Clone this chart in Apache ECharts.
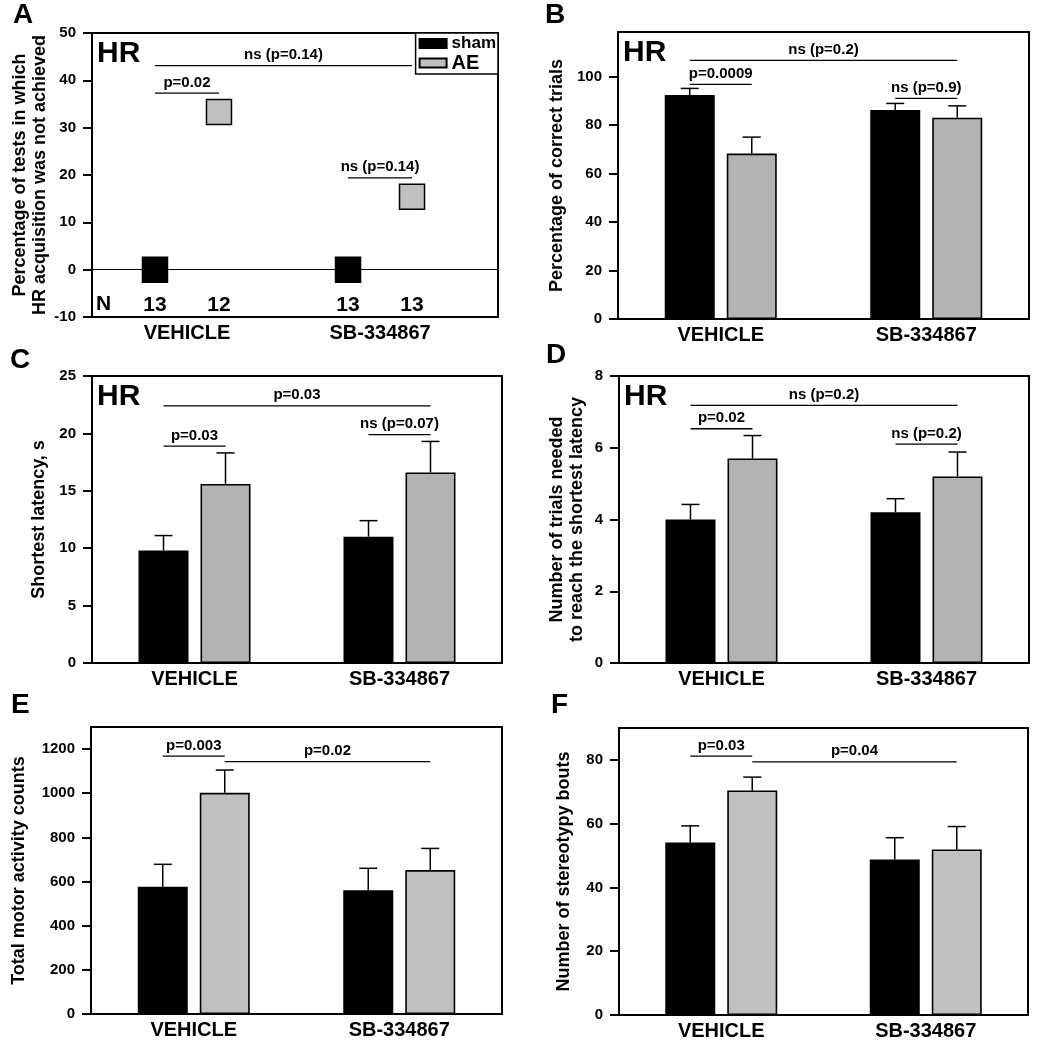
<!DOCTYPE html>
<html><head><meta charset="utf-8">
<script src="https://cdn.jsdelivr.net/npm/echarts@6/dist/echarts.min.js"></script>
<style>html,body{margin:0;padding:0;background:#fff}#c{width:1045px;height:1050px}</style>
</head><body><div id="c"></div>
<script>
// ---------------- data ----------------
const groups = ['VEHICLE', 'SB-334867'];
const seriesNames = ['sham', 'AE'];

// A: percentage of tests in which HR acquisition was not achieved
const aSham = [0, 0];
const aAE = [33.3, 15.4];
const aNSham = [13, 13];
const aNAE = [12, 13];
const aTicks = [-10, 0, 10, 20, 30, 40, 50];
const aBrackets = [[0, 0, 0, 1, 37.3, 'p=0.02'], [0, 0, 1, 1, 43.1, 'ns (p=0.14)'], [1, 0, 1, 1, 19.4, 'ns (p=0.14)']];

// B: percentage of correct trials
const bSham = [92.5, 86.3];
const bShamSem = [2.7, 2.7];
const bAE = [68.3, 83.1];
const bAESem = [6.8, 4.9];
const bTicks = [0, 20, 40, 60, 80, 100];
const bBrackets = [[0, 0, 0, 1, 96.9, 'p=0.0009'], [0, 0, 1, 1, 106.8, 'ns (p=0.2)'], [1, 0, 1, 1, 91.1, 'ns (p=0.9)']];

// C: shortest latency, s
const cSham = [9.8, 11.0];
const cShamSem = [1.3, 1.4];
const cAE = [15.6, 16.6];
const cAESem = [2.7, 2.7];
const cTicks = [0, 5, 10, 15, 20, 25];
const cBrackets = [[0, 0, 0, 1, 18.9, 'p=0.03'], [0, 0, 1, 1, 22.4, 'p=0.03'], [1, 0, 1, 1, 19.9, 'ns (p=0.07)']];

// D: number of trials needed to reach the shortest latency
const dSham = [4.0, 4.2];
const dShamSem = [0.42, 0.38];
const dAE = [5.7, 5.2];
const dAESem = [0.64, 0.68];
const dTicks = [0, 2, 4, 6, 8];
const dBrackets = [[0, 0, 0, 1, 6.53, 'p=0.02'], [0, 0, 1, 1, 7.18, 'ns (p=0.2)'], [1, 0, 1, 1, 6.10, 'ns (p=0.2)']];

// E: total motor activity counts
const eSham = [576, 561];
const eShamSem = [102, 99];
const eAE = [1002, 652];
const eAESem = [103, 98];
const eTicks = [0, 200, 400, 600, 800, 1000, 1200];
const eBrackets = [[0, 0, 0, 1, 1168, 'p=0.003'], [0, 1, 1, 1, 1143, 'p=0.02']];

// F: number of stereotypy bouts
const fSham = [54.1, 48.8];
const fShamSem = [5.2, 6.8];
const fAE = [70.4, 51.9];
const fAESem = [4.2, 7.2];
const fTicks = [0, 20, 40, 60, 80];
const fBrackets = [[0, 0, 0, 1, 81.2, 'p=0.03'], [0, 1, 1, 1, 79.4, 'p=0.04']];

// ---------------- styles / layout ----------------
const FONT = '"Liberation Sans", Arial, Helvetica, sans-serif';
const BAR_W = 50, BAR_GAP = 12;
const BAR_OFF = [-(BAR_W + BAR_GAP) / 2, (BAR_W + BAR_GAP) / 2];
const A_OFF = [-32, 32];
const GRAY1 = '#b3b3b3';
const GRAY2 = '#c0c0c0';

const layout = [
  { grid: { left: 92, top: 33, width: 406, height: 284 }, min: -10, max: 50, ticks: aTicks, name: 'Percentage of tests in which\nHR acquisition was not achieved', gap: 42, letter: 'A', lx: 13, ly: 16, hr: true },
  { grid: { left: 618, top: 32, width: 411, height: 287 }, min: 0, max: 118.5, ticks: bTicks, name: 'Percentage of correct trials', gap: 51, letter: 'B', lx: 545, ly: 16, hr: true, sham: bSham, shamSem: bShamSem, ae: bAE, aeSem: bAESem, br: bBrackets, gray: GRAY1 },
  { grid: { left: 92, top: 376, width: 410, height: 287 }, min: 0, max: 25, ticks: cTicks, name: 'Shortest latency, s', gap: 43, letter: 'C', lx: 10, ly: 361, hr: true, sham: cSham, shamSem: cShamSem, ae: cAE, aeSem: cAESem, br: cBrackets, gray: GRAY1 },
  { grid: { left: 619, top: 376, width: 410, height: 287 }, min: 0, max: 8, ticks: dTicks, name: 'Number of trials needed\nto reach the shortest latency', gap: 32, letter: 'D', lx: 546, ly: 356, hr: true, sham: dSham, shamSem: dShamSem, ae: dAE, aeSem: dAESem, br: dBrackets, gray: GRAY1 },
  { grid: { left: 91, top: 727, width: 411, height: 287 }, min: 0, max: 1300, ticks: eTicks, name: 'Total motor activity counts', gap: 62, letter: 'E', lx: 11, ly: 706, hr: false, sham: eSham, shamSem: eShamSem, ae: eAE, aeSem: eAESem, br: eBrackets, gray: GRAY2 },
  { grid: { left: 619, top: 728, width: 409, height: 287 }, min: 0, max: 90, ticks: fTicks, name: 'Number of stereotypy bouts', gap: 45, letter: 'F', lx: 551, ly: 706, hr: false, sham: fSham, shamSem: fShamSem, ae: fAE, aeSem: fAESem, br: fBrackets, gray: GRAY2 }
];

const txt = (size) => ({ color: '#000', fontSize: size, fontWeight: 'bold', fontFamily: FONT });

function makeYAxis(L, i) {
  return {
    type: 'value', gridIndex: i, min: L.min, max: L.max,
    axisLine: { show: true, onZero: false, lineStyle: { color: '#000', width: 2 } },
    axisTick: { show: true, length: 9, lineStyle: { color: '#000', width: 2 }, customValues: L.ticks },
    axisLabel: Object.assign({ customValues: L.ticks, margin: 16, formatter: (v) => String(v) }, txt(15)),
    splitLine: { show: false },
    name: L.name, nameLocation: 'middle', nameGap: L.gap,
    nameTextStyle: Object.assign({ lineHeight: 20 }, txt(18))
  };
}

function makeXAxis(i) {
  if (i === 0) {
    return {
      type: 'value', gridIndex: 0, min: -0.492, max: 1.611,
      axisLine: { show: true, onZero: false, lineStyle: { color: '#000', width: 2 } },
      axisTick: { show: false },
      splitLine: { show: false },
      axisLabel: Object.assign({ customValues: [0, 1], margin: 6, formatter: (v) => groups[Math.round(v)] || '' }, txt(20))
    };
  }
  return {
    type: 'category', gridIndex: i, data: groups,
    axisLine: { show: true, onZero: false, lineStyle: { color: '#000', width: 2 } },
    axisTick: { show: false },
    axisLabel: Object.assign({ margin: 6 }, txt(20))
  };
}

function bracketSeries(i, brackets, offsets) {
  return {
    type: 'custom', xAxisIndex: i, yAxisIndex: i, silent: true, clip: false, z: 5,
    data: brackets.map(b => [b[0], b[4]]),
    renderItem: (params, api) => {
      const b = brackets[params.dataIndex];
      const p1 = api.coord([b[0], b[4]]);
      const p2 = api.coord([b[2], b[4]]);
      const x1 = p1[0] + offsets[b[1]], x2 = p2[0] + offsets[b[3]];
      const y = p1[1];
      return {
        type: 'group', children: [
          { type: 'line', shape: { x1: x1, y1: y, x2: x2, y2: y }, style: { stroke: '#000', lineWidth: 1.3 } },
          { type: 'text', x: (x1 + x2) / 2, y: y - 3, style: { text: b[5], fill: '#000', fontSize: 15, fontWeight: 'bold', fontFamily: FONT, align: 'center', verticalAlign: 'bottom' } }
        ]
      };
    }
  };
}

function errSeries(i, means, sems, offset) {
  return {
    type: 'custom', xAxisIndex: i, yAxisIndex: i, silent: true, z: 4,
    data: means.map((m, k) => [k, m, m + sems[k]]),
    renderItem: (params, api) => {
      const base = api.coord([api.value(0), api.value(1)]);
      const top = api.coord([api.value(0), api.value(2)]);
      const x = base[0] + offset;
      return {
        type: 'group', children: [
          { type: 'line', shape: { x1: x, y1: base[1], x2: x, y2: top[1] }, style: { stroke: '#000', lineWidth: 1.5 } },
          { type: 'line', shape: { x1: x - 9, y1: top[1], x2: x + 9, y2: top[1] }, style: { stroke: '#000', lineWidth: 1.5 } }
        ]
      };
    }
  };
}

const series = [];
// Panel A
series.push({
  type: 'scatter', name: seriesNames[0], xAxisIndex: 0, yAxisIndex: 0, z: 3,
  data: aSham.map((v, k) => [k, v]), symbol: 'rect', symbolSize: 25, symbolOffset: [A_OFF[0], 0],
  itemStyle: { color: '#000', borderColor: '#000', borderWidth: 1.5, opacity: 1 },
  markLine: { silent: true, symbol: ['none', 'none'], label: { show: false }, lineStyle: { color: '#000', width: 1, type: 'solid' }, data: [{ yAxis: 0 }] }
});
series.push({
  type: 'scatter', name: seriesNames[1], xAxisIndex: 0, yAxisIndex: 0, z: 3,
  data: aAE.map((v, k) => [k, v]), symbol: 'rect', symbolSize: 25, symbolOffset: [A_OFF[1], 0],
  itemStyle: { color: GRAY2, borderColor: '#000', borderWidth: 1.5, opacity: 1 }
});
series.push(bracketSeries(0, aBrackets, A_OFF));
series.push({
  type: 'custom', xAxisIndex: 0, yAxisIndex: 0, silent: true, z: 5,
  data: groups.map((g, k) => [k, -7.5]),
  renderItem: (params, api) => {
    const k = params.dataIndex;
    const p = api.coord([k, -7.5]);
    const ns = [aNSham[k], aNAE[k]];
    return {
      type: 'group', children: ns.map((n, j) => ({
        type: 'text', x: p[0] + A_OFF[j], y: p[1],
        style: { text: String(n), fill: '#000', fontSize: 21, fontWeight: 'bold', fontFamily: FONT, align: 'center', verticalAlign: 'middle' }
      }))
    };
  }
});

// Bar panels B-F
for (let i = 1; i < layout.length; i++) {
  const L = layout[i];
  series.push({
    type: 'bar', name: seriesNames[0], xAxisIndex: i, yAxisIndex: i, data: L.sham,
    barWidth: BAR_W, barGap: (BAR_GAP / BAR_W * 100) + '%',
    itemStyle: { color: '#000', borderColor: '#000', borderWidth: 1.6 }
  });
  series.push({
    type: 'bar', name: seriesNames[1], xAxisIndex: i, yAxisIndex: i, data: L.ae,
    barWidth: BAR_W, barGap: (BAR_GAP / BAR_W * 100) + '%',
    itemStyle: { color: L.gray, borderColor: '#000', borderWidth: 1.6 }
  });
  series.push(errSeries(i, L.sham, L.shamSem, BAR_OFF[0]));
  series.push(errSeries(i, L.ae, L.aeSem, BAR_OFF[1]));
  series.push(bracketSeries(i, L.br, BAR_OFF));
}

const graphic = [];
layout.forEach((L) => {
  graphic.push({ type: 'text', left: L.lx, top: L.ly - 15, style: { text: L.letter, fill: '#000', fontSize: 28, fontWeight: 'bold', fontFamily: FONT } });
  if (L.hr) {
    graphic.push({ type: 'text', left: L.grid.left + 5, top: L.grid.top + 6, style: { text: 'HR', fill: '#000', fontSize: 30, fontWeight: 'bold', fontFamily: FONT } });
  }
});
graphic.push({ type: 'text', left: 96, top: 294, style: { text: 'N', fill: '#000', fontSize: 21, fontWeight: 'bold', fontFamily: FONT } });

const chart = echarts.init(document.getElementById('c'));
chart.setOption({
  animation: false,
  backgroundColor: '#fff',
  grid: layout.map(L => Object.assign({ show: true, borderColor: '#000', borderWidth: 2, backgroundColor: 'transparent', containLabel: false }, L.grid)),
  xAxis: layout.map((L, i) => makeXAxis(i)),
  yAxis: layout.map((L, i) => makeYAxis(L, i)),
  legend: {
    data: [
      { name: 'sham', icon: 'rect', textStyle: { fontSize: 17, lineHeight: 15 } },
      { name: 'AE', icon: 'rect', textStyle: { fontSize: 20, lineHeight: 18 } }
    ],
    orient: 'vertical', right: 1045 - 498, top: 33, itemWidth: 27, itemHeight: 9, itemGap: 1,
    padding: [2, 2, 1, 3], borderColor: '#000', borderWidth: 1.5, backgroundColor: '#fff',
    selectedMode: false,
    textStyle: { color: '#000', fontWeight: 'bold', fontFamily: FONT }
  },
  graphic: graphic,
  series: series
});
</script>
</body></html>
